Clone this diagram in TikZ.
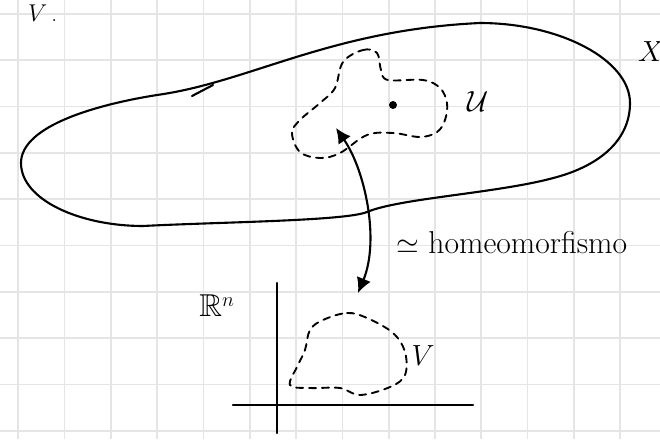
\documentclass[tikz,border=0pt]{standalone}
\usepackage{amsmath, amssymb}
\usepackage{tikz}
\usetikzlibrary{arrows.meta, positioning}
\usepackage{xcolor}

\begin{document}
\begin{tikzpicture}[
    x=0.03cm, y=-0.03cm,
    every node/.style={font=\fontsize{27}{30}\selectfont, inner sep=0pt},
    gridline/.style={draw=black!10, line width=1.4pt},
    pen/.style={draw, line width=1.8pt, line cap=round, line join=round},
    dashpen/.style={draw, line width=1.6pt, dash pattern=on 6pt off 5pt, line cap=round},
    arrow/.style={pen, {Latex[length=4.5mm, width=4.5mm]}-{Latex[length=4.5mm, width=4.5mm]}}
]
    \useasboundingbox (0,0) rectangle (660,439);
    \fill[white] (0,0) rectangle (660,439);

    % squared paper
    \foreach \gx in {0,...,13}
        \draw[gridline] ({18.3+46.3*\gx},0) -- ++(0,439);
    \foreach \gy in {0,...,9}
        \draw[gridline] (0,{14+46.3*\gy}) -- ++(660,0);

    % the space X
    \draw[pen] (21,163) .. controls (21,125) and (100,104) .. (157,95)
        .. controls (250,82) and (330,30) .. (480,23)
        .. controls (560,23) and (630,60) .. (630,103)
        .. controls (630,140) and (600,165) .. (557,177)
        .. controls (501,193) and (400,198) .. (367,212)
        .. controls (345,221) and (220,222) .. (143,226)
        .. controls (80,226) and (21,200) .. (21,163) -- cycle;
    \draw[pen] (192,96) -- (213,85);
    \node (labX) at (651,52) {$X$};

    % open set U
    \draw[dashpen] plot[smooth cycle, tension=0.6] coordinates {
        (343,62) (363,50) (377,53) (381,70) (388,80) (423,80) (440,88)
        (447,103) (445,120) (437,132) (420,137) (393,133) (367,135)
        (340,153) (320,158) (300,152) (292,133) (300,120) (320,103) (335,88)};
    \fill (393,105) circle (4);
    \node (labU) at (478,102) {$\mathcal{U}$};

    % R^n with V
    \draw[pen] (277,283) -- (277,433);
    \draw[pen] (233,405) -- (473,405);
    \node (labR) at (217,306) {$\mathbb{R}^n$};
    \draw[dashpen] plot[smooth cycle, tension=0.6] coordinates {
        (323,320) (347,313) (367,318) (393,333) (405,352) (405,375)
        (390,387) (360,395) (340,388) (310,388) (290,385) (298,365)
        (305,350) (310,330)};
    \node (labV) at (423,356) {$V$};

    % homeomorphism
    \coordinate (tipU) at (336,128);
    \coordinate (tipV) at (358,293);
    \draw[arrow] (tipU) .. controls (365,170) and (380,240) .. (tipV);
    \node[anchor=base west] (hom) at (396,253) {$\simeq$\ homeomorfismo};

    % fragment of the line above
    \node[anchor=base west, font=\fontsize{20}{22}\selectfont] (frag) at (28,21) {$V$\,.};
\end{tikzpicture}
\end{document}
